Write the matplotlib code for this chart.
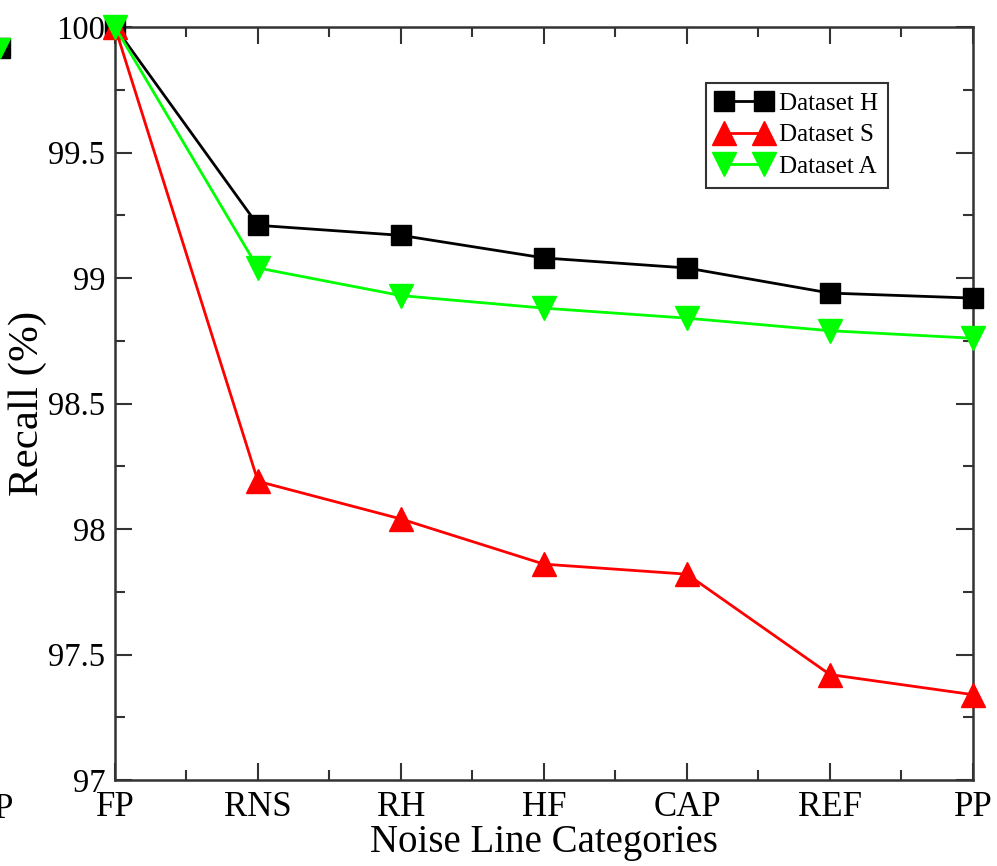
import matplotlib
matplotlib.use("Agg")
import matplotlib.pyplot as plt
from matplotlib.ticker import MultipleLocator

plt.rcParams['font.family'] = ['Liberation Serif', 'DejaVu Serif']

categories = ["FP", "RNS", "RH", "HF", "CAP", "REF", "PP"]
dataset_h = [100.0, 99.21, 99.17, 99.08, 99.04, 98.94, 98.92]
dataset_s = [100.0, 98.19, 98.04, 97.86, 97.82, 97.42, 97.34]
dataset_a = [100.0, 99.04, 98.93, 98.88, 98.84, 98.79, 98.76]

fig = plt.figure(figsize=(9.97, 8.66), dpi=100)
ax = fig.add_axes([0.1153, 0.0993, 0.8606, 0.8695])

x = list(range(len(categories)))
ax.plot(x, dataset_h, color='black', lw=2.0, marker='s', ms=14, label='Dataset H', clip_on=False, zorder=3)
ax.plot(x, dataset_s, color='#ff0000', lw=2.0, marker='^', ms=17, label='Dataset S', clip_on=False, zorder=4)
ax.plot(x, dataset_a, color='#00ff00', lw=2.0, marker='v', ms=17, label='Dataset A', clip_on=False, zorder=5)

ax.set_xlim(0, 6)
ax.set_ylim(97, 100)
ax.set_xticks(x)
ax.set_xticklabels(categories)
ax.xaxis.set_minor_locator(MultipleLocator(0.5))
ax.set_yticks([97, 97.5, 98, 98.5, 99, 99.5, 100])
ax.set_yticklabels(["97", "97.5", "98", "98.5", "99", "99.5", "100"])
ax.yaxis.set_minor_locator(MultipleLocator(0.25))

ax.tick_params(which='both', direction='in', top=True, right=True, width=1.5, color='#333333')
ax.tick_params(which='major', length=12, labelsize=25, pad=6)
ax.tick_params(axis='y', which='major', labelsize=23.5, pad=7)
ax.tick_params(axis='x', which='major', pad=8)
ax.tick_params(which='minor', length=7)
for s in ax.spines.values():
    s.set_linewidth(1.8)
    s.set_color('#333333')

ax.set_xlabel("Noise Line Categories", fontsize=28, labelpad=0)
ax.set_ylabel("Recall (%)", fontsize=31)
ax.yaxis.set_label_coords(-0.079, 0.5)

leg = ax.legend(loc='upper right', bbox_to_anchor=(0.901, 0.926), fontsize=18,
                frameon=True, fancybox=False, edgecolor='#333333', framealpha=1,
                handlelength=2.2, handletextpad=0.3, borderpad=0.4, labelspacing=0.35,
                borderaxespad=0, numpoints=2, markerscale=1.0)
leg.get_frame().set_linewidth(1.5)

# cropped remnants from an adjacent panel at the left edge (partly outside the picture, as in the reference)
fig.text(-0.006, 1 - 810/866, "P", fontsize=25, ha='left', va='center')
fig.lines.append(plt.Line2D([0.0], [1 - 48/866], marker='s', ms=14, color='black', transform=fig.transFigure))
fig.lines.append(plt.Line2D([0.0], [1 - 48/866], marker='v', ms=15, color='#00ff00', transform=fig.transFigure))

fig.savefig("out.png", dpi=100)
